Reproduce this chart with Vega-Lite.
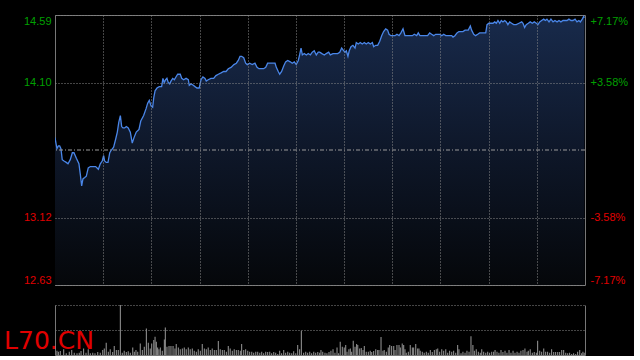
{
"$schema": "https://vega.github.io/schema/vega-lite/v6.json",
"background": "#000000",
"padding": {"left": 0, "top": 14, "right": 5, "bottom": 0},
"spacing": 18,
"config": {"view": {"stroke": "#777777", "strokeWidth": 1}, "axis": {"labelFont": "Liberation Sans", "labelFontSize": 11}},
"datasets": {
"price": [{"t":0,"p":13.70},{"t":1.2,"p":13.62},{"t":2.1,"p":13.64},{"t":2.9,"p":13.64},{"t":3.7,"p":13.62},{"t":4.5,"p":13.54},{"t":5.6,"p":13.53},{"t":7.0,"p":13.52},{"t":8.1,"p":13.51},{"t":9.5,"p":13.54},{"t":10.8,"p":13.59},{"t":11.8,"p":13.59},{"t":13.3,"p":13.55},{"t":14.9,"p":13.51},{"t":15.8,"p":13.43},{"t":16.6,"p":13.35},{"t":17.4,"p":13.40},{"t":18.5,"p":13.41},{"t":19.5,"p":13.42},{"t":20.7,"p":13.48},{"t":22.0,"p":13.49},{"t":23.7,"p":13.49},{"t":25.3,"p":13.49},{"t":27.0,"p":13.47},{"t":28.2,"p":13.51},{"t":29.4,"p":13.53},{"t":30.3,"p":13.57},{"t":30.9,"p":13.53},{"t":31.9,"p":13.52},{"t":33.0,"p":13.52},{"t":34.1,"p":13.59},{"t":35.1,"p":13.61},{"t":36.5,"p":13.63},{"t":37.8,"p":13.69},{"t":38.8,"p":13.74},{"t":39.7,"p":13.81},{"t":40.7,"p":13.86},{"t":41.5,"p":13.78},{"t":42.3,"p":13.77},{"t":43.4,"p":13.77},{"t":44.4,"p":13.78},{"t":45.6,"p":13.77},{"t":46.9,"p":13.74},{"t":48.1,"p":13.66},{"t":49.2,"p":13.70},{"t":50.6,"p":13.74},{"t":52.3,"p":13.76},{"t":53.4,"p":13.82},{"t":55.2,"p":13.86},{"t":56.7,"p":13.91},{"t":57.7,"p":13.95},{"t":58.7,"p":13.97},{"t":59.8,"p":13.93},{"t":60.8,"p":13.92},{"t":61.5,"p":13.99},{"t":62.3,"p":14.04},{"t":63.5,"p":14.06},{"t":64.9,"p":14.07},{"t":66.4,"p":14.07},{"t":67.2,"p":14.13},{"t":68.0,"p":14.10},{"t":68.9,"p":14.12},{"t":69.7,"p":14.13},{"t":70.5,"p":14.10},{"t":71.4,"p":14.09},{"t":72.2,"p":14.11},{"t":73.3,"p":14.13},{"t":74.3,"p":14.12},{"t":75.3,"p":14.14},{"t":76.4,"p":14.16},{"t":78.0,"p":14.16},{"t":78.9,"p":14.13},{"t":80.1,"p":14.12},{"t":81.6,"p":14.13},{"t":83.0,"p":14.12},{"t":83.6,"p":14.08},{"t":84.7,"p":14.09},{"t":86.1,"p":14.08},{"t":87.2,"p":14.07},{"t":88.4,"p":14.06},{"t":89.8,"p":14.06},{"t":90.9,"p":14.12},{"t":92.1,"p":14.14},{"t":93.4,"p":14.13},{"t":94.2,"p":14.11},{"t":95.4,"p":14.12},{"t":97.1,"p":14.13},{"t":98.8,"p":14.13},{"t":100.2,"p":14.15},{"t":101.7,"p":14.16},{"t":103.4,"p":14.17},{"t":105.0,"p":14.18},{"t":106.5,"p":14.18},{"t":107.9,"p":14.20},{"t":109.6,"p":14.21},{"t":111.4,"p":14.23},{"t":112.9,"p":14.24},{"t":114.1,"p":14.26},{"t":115.2,"p":14.29},{"t":116.2,"p":14.29},{"t":117.5,"p":14.28},{"t":118.7,"p":14.24},{"t":119.7,"p":14.23},{"t":121.2,"p":14.24},{"t":122.8,"p":14.23},{"t":124.5,"p":14.24},{"t":125.8,"p":14.21},{"t":127.0,"p":14.20},{"t":128.3,"p":14.20},{"t":129.9,"p":14.20},{"t":131.2,"p":14.21},{"t":132.4,"p":14.24},{"t":134.0,"p":14.24},{"t":135.7,"p":14.24},{"t":137.0,"p":14.24},{"t":137.8,"p":14.21},{"t":139.0,"p":14.18},{"t":139.9,"p":14.16},{"t":141.1,"p":14.18},{"t":142.4,"p":14.22},{"t":143.6,"p":14.25},{"t":144.9,"p":14.26},{"t":146.5,"p":14.25},{"t":147.7,"p":14.24},{"t":149.0,"p":14.25},{"t":150.2,"p":14.23},{"t":151.5,"p":14.26},{"t":152.3,"p":14.30},{"t":153.2,"p":14.35},{"t":154.0,"p":14.30},{"t":155.2,"p":14.31},{"t":156.5,"p":14.30},{"t":157.7,"p":14.31},{"t":159.0,"p":14.30},{"t":160.2,"p":14.32},{"t":161.4,"p":14.33},{"t":162.7,"p":14.30},{"t":163.9,"p":14.32},{"t":164.8,"p":14.32},{"t":166.2,"p":14.31},{"t":167.7,"p":14.30},{"t":168.9,"p":14.31},{"t":170.4,"p":14.32},{"t":171.4,"p":14.30},{"t":173.1,"p":14.31},{"t":174.5,"p":14.31},{"t":176.0,"p":14.31},{"t":177.3,"p":14.32},{"t":178.5,"p":14.35},{"t":179.8,"p":14.33},{"t":180.6,"p":14.32},{"t":181.4,"p":14.33},{"t":182.4,"p":14.29},{"t":183.2,"p":14.33},{"t":184.3,"p":14.36},{"t":185.5,"p":14.37},{"t":186.8,"p":14.35},{"t":187.6,"p":14.39},{"t":188.8,"p":14.38},{"t":190.1,"p":14.39},{"t":191.3,"p":14.38},{"t":192.6,"p":14.39},{"t":193.8,"p":14.38},{"t":195.1,"p":14.39},{"t":196.3,"p":14.38},{"t":197.6,"p":14.39},{"t":198.4,"p":14.36},{"t":199.7,"p":14.37},{"t":200.9,"p":14.37},{"t":202.2,"p":14.40},{"t":203.4,"p":14.44},{"t":204.6,"p":14.47},{"t":205.9,"p":14.49},{"t":207.1,"p":14.48},{"t":208.0,"p":14.45},{"t":209.2,"p":14.44},{"t":210.4,"p":14.44},{"t":211.7,"p":14.44},{"t":212.9,"p":14.45},{"t":214.2,"p":14.44},{"t":215.4,"p":14.46},{"t":216.7,"p":14.49},{"t":217.9,"p":14.44},{"t":219.2,"p":14.44},{"t":221.0,"p":14.44},{"t":222.5,"p":14.44},{"t":223.7,"p":14.45},{"t":225.2,"p":14.44},{"t":226.2,"p":14.46},{"t":227.2,"p":14.44},{"t":228.7,"p":14.44},{"t":230.4,"p":14.44},{"t":232.0,"p":14.44},{"t":233.3,"p":14.46},{"t":234.5,"p":14.45},{"t":235.8,"p":14.44},{"t":237.0,"p":14.45},{"t":238.3,"p":14.45},{"t":239.5,"p":14.45},{"t":240.8,"p":14.44},{"t":242.0,"p":14.45},{"t":243.3,"p":14.44},{"t":244.5,"p":14.44},{"t":245.7,"p":14.44},{"t":247.0,"p":14.44},{"t":247.8,"p":14.43},{"t":249.0,"p":14.44},{"t":250.3,"p":14.46},{"t":251.5,"p":14.47},{"t":252.8,"p":14.47},{"t":254.0,"p":14.47},{"t":255.3,"p":14.48},{"t":256.5,"p":14.48},{"t":257.3,"p":14.48},{"t":258.6,"p":14.51},{"t":259.4,"p":14.48},{"t":260.7,"p":14.45},{"t":261.9,"p":14.44},{"t":263.2,"p":14.45},{"t":264.4,"p":14.46},{"t":265.7,"p":14.46},{"t":266.9,"p":14.46},{"t":268.2,"p":14.46},{"t":269.0,"p":14.52},{"t":270.2,"p":14.53},{"t":271.5,"p":14.53},{"t":272.7,"p":14.53},{"t":273.8,"p":14.54},{"t":274.8,"p":14.53},{"t":275.8,"p":14.55},{"t":276.9,"p":14.53},{"t":277.9,"p":14.55},{"t":278.9,"p":14.54},{"t":280.0,"p":14.55},{"t":281.0,"p":14.54},{"t":282.0,"p":14.52},{"t":283.1,"p":14.54},{"t":284.3,"p":14.53},{"t":285.6,"p":14.52},{"t":287.2,"p":14.52},{"t":288.9,"p":14.53},{"t":290.6,"p":14.54},{"t":291.4,"p":14.53},{"t":292.4,"p":14.50},{"t":293.4,"p":14.52},{"t":294.7,"p":14.53},{"t":295.9,"p":14.54},{"t":297.2,"p":14.53},{"t":298.4,"p":14.54},{"t":299.7,"p":14.53},{"t":300.7,"p":14.52},{"t":301.8,"p":14.54},{"t":303.0,"p":14.55},{"t":304.3,"p":14.56},{"t":305.3,"p":14.55},{"t":306.3,"p":14.56},{"t":307.6,"p":14.54},{"t":308.8,"p":14.56},{"t":310.1,"p":14.54},{"t":311.3,"p":14.55},{"t":312.6,"p":14.54},{"t":313.8,"p":14.55},{"t":315.0,"p":14.54},{"t":316.3,"p":14.55},{"t":317.5,"p":14.55},{"t":318.8,"p":14.55},{"t":320.0,"p":14.56},{"t":321.3,"p":14.55},{"t":322.5,"p":14.55},{"t":323.8,"p":14.56},{"t":325.0,"p":14.54},{"t":326.2,"p":14.55},{"t":327.1,"p":14.54},{"t":328.3,"p":14.56},{"t":329.2,"p":14.58},{"t":329.6,"p":14.57}],
"vol": [{"t":1.2,"v":13},{"t":2.1,"v":10},{"t":3.3,"v":12},{"t":5.4,"v":17},{"t":7.0,"v":5},{"t":8.9,"v":10},{"t":10.4,"v":15},{"t":12.0,"v":7},{"t":13.7,"v":5},{"t":15.1,"v":7},{"t":16.2,"v":12},{"t":17.8,"v":20},{"t":19.3,"v":7},{"t":20.7,"v":17},{"t":22.0,"v":5},{"t":23.5,"v":7},{"t":24.9,"v":5},{"t":26.6,"v":9},{"t":28.2,"v":7},{"t":29.7,"v":15},{"t":30.7,"v":20},{"t":31.9,"v":37},{"t":33.2,"v":10},{"t":34.4,"v":17},{"t":35.9,"v":9},{"t":36.9,"v":27},{"t":38.2,"v":15},{"t":39.4,"v":15},{"t":40.7,"v":151},{"t":41.9,"v":7},{"t":43.1,"v":13},{"t":44.4,"v":9},{"t":45.6,"v":11},{"t":46.9,"v":7},{"t":48.4,"v":23},{"t":49.4,"v":10},{"t":50.4,"v":15},{"t":51.5,"v":10},{"t":53.1,"v":35},{"t":54.4,"v":15},{"t":55.6,"v":25},{"t":56.9,"v":80},{"t":58.1,"v":37},{"t":59.3,"v":20},{"t":60.2,"v":35},{"t":61.5,"v":45},{"t":62.3,"v":55},{"t":63.1,"v":40},{"t":63.9,"v":23},{"t":64.7,"v":17},{"t":65.6,"v":23},{"t":66.8,"v":13},{"t":68.1,"v":47},{"t":68.7,"v":83},{"t":69.7,"v":25},{"t":71.0,"v":27},{"t":72.2,"v":27},{"t":73.5,"v":27},{"t":74.7,"v":20},{"t":75.5,"v":33},{"t":76.8,"v":23},{"t":78.0,"v":17},{"t":79.3,"v":20},{"t":80.5,"v":23},{"t":81.7,"v":17},{"t":83.0,"v":23},{"t":84.2,"v":17},{"t":85.5,"v":20},{"t":86.7,"v":13},{"t":88.0,"v":10},{"t":89.2,"v":17},{"t":90.5,"v":13},{"t":91.7,"v":33},{"t":93.0,"v":20},{"t":94.2,"v":17},{"t":95.4,"v":23},{"t":96.7,"v":15},{"t":97.9,"v":20},{"t":99.2,"v":15},{"t":100.4,"v":15},{"t":101.7,"v":42},{"t":102.9,"v":17},{"t":104.2,"v":15},{"t":105.4,"v":15},{"t":106.7,"v":10},{"t":107.9,"v":27},{"t":109.1,"v":20},{"t":110.4,"v":13},{"t":111.6,"v":17},{"t":112.9,"v":15},{"t":114.1,"v":15},{"t":115.4,"v":13},{"t":116.2,"v":33},{"t":117.5,"v":15},{"t":118.7,"v":17},{"t":120.0,"v":13},{"t":121.2,"v":10},{"t":122.5,"v":10},{"t":123.7,"v":7},{"t":125.0,"v":10},{"t":126.2,"v":10},{"t":127.5,"v":7},{"t":128.7,"v":10},{"t":129.9,"v":5},{"t":131.2,"v":10},{"t":132.4,"v":9},{"t":133.7,"v":10},{"t":134.9,"v":5},{"t":136.2,"v":9},{"t":137.4,"v":7},{"t":138.7,"v":3},{"t":139.9,"v":13},{"t":141.1,"v":5},{"t":142.4,"v":15},{"t":143.6,"v":7},{"t":144.9,"v":10},{"t":146.1,"v":7},{"t":147.4,"v":5},{"t":148.6,"v":11},{"t":149.9,"v":5},{"t":151.1,"v":30},{"t":152.3,"v":17},{"t":153.4,"v":73},{"t":154.8,"v":7},{"t":156.1,"v":10},{"t":157.3,"v":7},{"t":158.6,"v":10},{"t":159.8,"v":5},{"t":161.1,"v":10},{"t":162.3,"v":7},{"t":163.6,"v":9},{"t":164.8,"v":7},{"t":165.6,"v":15},{"t":166.7,"v":10},{"t":168.1,"v":7},{"t":169.3,"v":5},{"t":170.6,"v":9},{"t":171.8,"v":13},{"t":173.1,"v":17},{"t":174.3,"v":7},{"t":175.6,"v":23},{"t":176.6,"v":5},{"t":177.6,"v":40},{"t":178.9,"v":25},{"t":180.1,"v":23},{"t":181.0,"v":30},{"t":181.8,"v":10},{"t":183.0,"v":17},{"t":183.9,"v":20},{"t":184.7,"v":10},{"t":185.7,"v":43},{"t":186.8,"v":25},{"t":187.8,"v":33},{"t":188.5,"v":30},{"t":189.7,"v":20},{"t":190.7,"v":21},{"t":191.8,"v":15},{"t":192.6,"v":27},{"t":193.8,"v":10},{"t":195.1,"v":10},{"t":196.3,"v":13},{"t":197.2,"v":9},{"t":198.4,"v":12},{"t":199.7,"v":17},{"t":200.9,"v":15},{"t":201.7,"v":15},{"t":203.0,"v":54},{"t":204.2,"v":13},{"t":205.0,"v":15},{"t":206.3,"v":10},{"t":207.5,"v":23},{"t":208.4,"v":30},{"t":209.6,"v":27},{"t":210.9,"v":27},{"t":211.7,"v":15},{"t":212.9,"v":30},{"t":214.2,"v":30},{"t":215.0,"v":23},{"t":216.2,"v":35},{"t":217.1,"v":30},{"t":217.9,"v":17},{"t":218.7,"v":7},{"t":220.0,"v":10},{"t":221.2,"v":30},{"t":222.5,"v":23},{"t":223.3,"v":23},{"t":224.6,"v":33},{"t":225.8,"v":20},{"t":226.6,"v":20},{"t":227.4,"v":13},{"t":228.7,"v":10},{"t":229.9,"v":7},{"t":231.2,"v":10},{"t":232.4,"v":7},{"t":233.7,"v":15},{"t":234.9,"v":9},{"t":236.2,"v":15},{"t":237.4,"v":17},{"t":238.3,"v":20},{"t":239.5,"v":10},{"t":240.8,"v":17},{"t":242.0,"v":13},{"t":243.3,"v":17},{"t":244.5,"v":7},{"t":245.7,"v":13},{"t":247.0,"v":10},{"t":248.2,"v":13},{"t":249.5,"v":7},{"t":250.7,"v":30},{"t":251.5,"v":17},{"t":252.8,"v":5},{"t":254.0,"v":10},{"t":255.3,"v":7},{"t":256.5,"v":13},{"t":257.8,"v":10},{"t":259.0,"v":57},{"t":260.2,"v":30},{"t":261.1,"v":13},{"t":262.3,"v":17},{"t":263.6,"v":10},{"t":264.8,"v":7},{"t":265.7,"v":17},{"t":266.9,"v":10},{"t":268.2,"v":7},{"t":269.4,"v":10},{"t":270.6,"v":7},{"t":271.9,"v":10},{"t":273.1,"v":10},{"t":274.0,"v":15},{"t":275.2,"v":10},{"t":276.4,"v":7},{"t":277.7,"v":15},{"t":278.9,"v":9},{"t":280.2,"v":13},{"t":281.4,"v":7},{"t":282.7,"v":15},{"t":283.9,"v":7},{"t":285.2,"v":13},{"t":286.4,"v":7},{"t":287.7,"v":10},{"t":288.9,"v":7},{"t":290.1,"v":13},{"t":291.4,"v":15},{"t":292.6,"v":20},{"t":293.9,"v":10},{"t":294.7,"v":13},{"t":295.9,"v":17},{"t":297.2,"v":7},{"t":298.4,"v":9},{"t":299.7,"v":7},{"t":300.5,"v":43},{"t":301.8,"v":13},{"t":303.0,"v":10},{"t":304.3,"v":20},{"t":305.5,"v":10},{"t":306.7,"v":10},{"t":308.0,"v":7},{"t":309.2,"v":17},{"t":310.5,"v":9},{"t":311.7,"v":9},{"t":313.0,"v":9},{"t":314.2,"v":9},{"t":315.5,"v":15},{"t":316.7,"v":15},{"t":318.0,"v":7},{"t":319.2,"v":5},{"t":320.4,"v":7},{"t":321.7,"v":3},{"t":322.9,"v":5},{"t":324.2,"v":3},{"t":325.4,"v":10},{"t":326.7,"v":15},{"t":327.9,"v":5},{"t":328.7,"v":10},{"t":329.5,"v":7}]
},
"vconcat": [
{
"width": 530,
"height": 270,
"resolve": {"scale": {"y": "independent"}},
"layer": [
{
"data": {"name": "price"},
"encoding": {
"x": {"field": "t", "type": "quantitative", "scale": {"domain": [0, 330], "nice": false, "zero": false},
"axis": {"values": [30,60,90,120,150,180,210,240,270,300], "grid": true, "gridDash": [1,2], "gridColor": "#8a8a8a", "labels": false, "ticks": false, "domain": false, "title": null, "minExtent": 0, "maxExtent": 0, "zindex": 1}},
"y": {"field": "p", "type": "quantitative", "scale": {"domain": [12.63, 14.59], "nice": false, "zero": false},
"axis": {"values": [12.63, 13.12, 14.10, 14.59], "format": ".2f", "grid": true, "gridDash": [1,2], "gridColor": "#8a8a8a", "ticks": false, "domain": false, "title": null, "labelFlush": true, "labelPadding": 4, "minExtent": 54, "maxExtent": 54, "zindex": 1,
"labelColor": {"condition": {"test": "datum.value > 13.61", "value": "#00a000"}, "value": "#e00000"}}}
},
"layer": [
{"mark": {"type": "area", "clip": true, "color": {"gradient": "linear", "x1": 0, "y1": 0, "x2": 0, "y2": 1, "stops": [{"offset": 0, "color": "#182a4b"}, {"offset": 0.5, "color": "#0e1729"}, {"offset": 1, "color": "#05070a"}]}},
"encoding": {"y2": {"datum": 12.63}}},
{"mark": {"type": "line", "clip": true, "color": "#4a86e8", "strokeWidth": 1.3}},
{"data": {"values": [{"label": "sina.com"}]},
"mark": {"type": "text", "align": "right", "baseline": "alphabetic", "font": "Liberation Sans", "fontSize": 10.5, "color": "#9a9a9a"},
"encoding": {"x": {"datum": 323.3}, "y": {"datum": 12.637}, "text": {"field": "label"}}}
]
},
{
"data": {"values": [{"pct": 0}]},
"mark": {"type": "rule", "color": "#9a9a9a", "strokeDash": [4, 2, 1, 2]},
"encoding": {
"y": {"field": "pct", "type": "quantitative", "scale": {"domain": [-7.17, 7.17], "nice": false, "zero": false},
"axis": {"orient": "right", "values": [-7.17, -3.58, 3.58, 7.17], "labelExpr": "(datum.value > 0 ? '+' : '-') + format(abs(datum.value), '.2f') + '%'", "grid": false, "ticks": false, "domain": false, "title": null, "labelFlush": true, "labelPadding": 5,
"labelColor": {"condition": {"test": "datum.value > 0", "value": "#00a000"}, "value": "#e00000"}}}
}
}
]
},
{
"width": 530,
"height": 50,
"view": {"stroke": null},
"layer": [
{
"data": {"name": "vol"},
"mark": {"type": "rule", "color": "#8c8c8c", "strokeWidth": 1.1},
"encoding": {
"x": {"field": "t", "type": "quantitative", "scale": {"domain": [0, 330], "nice": false, "zero": false},
"axis": {"values": [330], "grid": true, "gridDash": [], "gridColor": "#777777", "labels": false, "ticks": false, "domain": true, "domainColor": "#777777", "title": null}},
"y": {"field": "v", "type": "quantitative", "scale": {"domain": [0, 151], "nice": false},
"axis": {"values": [75.5, 151], "grid": true, "gridDash": [1,2], "gridColor": "#8a8a8a", "labels": false, "ticks": false, "domain": true, "domainColor": "#777777", "title": null, "minExtent": 54, "maxExtent": 54}},
"y2": {"datum": 0}
}
},
{
"data": {"values": [{"label": "L70.CN"}]},
"mark": {"type": "text", "align": "left", "baseline": "alphabetic", "font": "DejaVu Sans", "fontSize": 25, "color": "#e00000"},
"encoding": {"x": {"datum": -31.7}, "y": {"datum": 18}, "text": {"field": "label"}}
}
]
}
]
}
